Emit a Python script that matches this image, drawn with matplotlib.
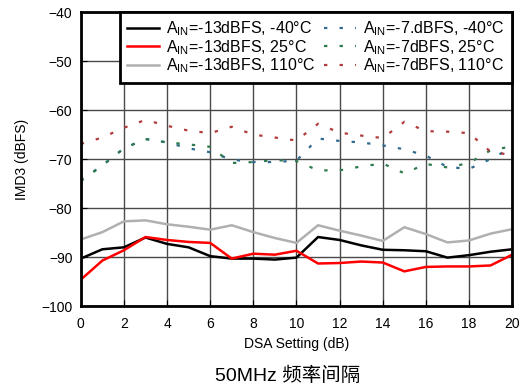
import numpy as np
import matplotlib.pyplot as plt

plt.rcParams['font.family'] = ['Liberation Sans', 'Noto Sans CJK SC', 'DejaVu Sans']
plt.rcParams['mathtext.default'] = 'regular'

dsa = list(range(21))
# A_IN = -13 dBFS
m13_n40 = [-90.3, -88.4, -88.0, -86.0, -87.3, -88.0, -89.8, -90.3, -90.3, -90.5, -90.1,
           -85.9, -86.5, -87.6, -88.5, -88.6, -88.8, -90.1, -89.6, -88.9, -88.4]
m13_25 = [-94.6, -90.7, -88.6, -85.9, -86.5, -86.9, -87.1, -90.3, -89.3, -89.5, -88.7,
          -91.3, -91.2, -90.9, -91.1, -92.9, -92.0, -91.9, -91.9, -91.7, -89.5]
m13_110 = [-86.4, -84.9, -82.7, -82.5, -83.3, -83.8, -84.4, -83.5, -84.9, -86.1, -87.1,
           -83.5, -84.6, -85.6, -86.7, -83.9, -85.3, -87.0, -86.6, -85.2, -84.3]
# A_IN = -7 dBFS
m7_n40 = [-74.3, -71.3, -67.8, -65.9, -66.6, -67.8, -68.6, -70.1, -70.6, -70.6, -70.3,
          -65.8, -66.3, -66.6, -67.2, -68.0, -69.3, -71.6, -72.0, -70.0, -67.6]
m7_25 = [-74.5, -71.3, -67.8, -65.9, -66.6, -67.0, -67.5, -70.8, -70.6, -70.2, -70.4,
         -72.3, -72.3, -71.5, -70.9, -72.9, -71.0, -71.7, -70.8, -68.2, -67.4]
m7_110 = [-66.9, -65.6, -63.6, -62.0, -63.2, -64.2, -64.7, -63.4, -65.0, -65.6, -66.2,
          -62.8, -64.6, -65.2, -65.7, -62.4, -64.3, -64.4, -64.7, -68.5, -69.2]

fig = plt.figure(figsize=(5.28, 3.89), dpi=100)
ax = fig.add_axes([0.153, 0.213, 0.817, 0.756])

ax.plot(dsa, m13_n40, color='black', lw=1.8, label=r'A$_{IN}$=-13dBFS, -40°C')
ax.plot(dsa, m13_25, color='#ff0000', lw=1.8, label=r'A$_{IN}$=-13dBFS, 25°C')
ax.plot(dsa, m13_110, color='#b0b0b0', lw=1.8, label=r'A$_{IN}$=-13dBFS, 110°C')
ax.plot(dsa, m7_n40, color='#2f6b8e', lw=1.6, dashes=(1.5, 5.5), label=r'A$_{IN}$=-7.dBFS, -40°C')
ax.plot(dsa, m7_25, color='#2e7a50', lw=1.6, dashes=(1.5, 5.5), label=r'A$_{IN}$=-7dBFS, 25°C')
ax.plot(dsa, m7_110, color='#b23b3b', lw=1.6, dashes=(1.5, 5.5), label=r'A$_{IN}$=-7dBFS, 110°C')

ax.set_xlim(0, 20)
ax.set_ylim(-100, -40)
ax.set_xticks(range(0, 21, 2))
ax.set_yticks(range(-100, -39, 10))
ax.grid(True, color='#4a4a4a', lw=1.0)
ax.set_axisbelow(True)
ax.tick_params(direction='in', labelsize=10, length=4, color='black')
ax.tick_params(axis='x', pad=8)
ax.tick_params(axis='y', pad=6)
for s in ax.spines.values():
    s.set_linewidth(2)
ax.set_xlabel('DSA Setting (dB)', fontsize=10, labelpad=4)
ax.set_ylabel('IMD3 (dBFS)', fontsize=10, labelpad=9)

leg = ax.legend(ncol=2, loc='upper right', fontsize=11.5, frameon=True, fancybox=False,
                borderaxespad=0, labelspacing=0.0, handlelength=2.0, handletextpad=0.45,
                columnspacing=0.5, borderpad=0.45)
leg.get_frame().set_edgecolor('black')
leg.get_frame().set_linewidth(2)
leg.get_frame().set_alpha(1)

fig.text(0.545, 0.033, '50MHz 频率间隔', ha='center', va='center', fontsize=14,
         fontweight='light')

fig.savefig('out.png', dpi=100)
